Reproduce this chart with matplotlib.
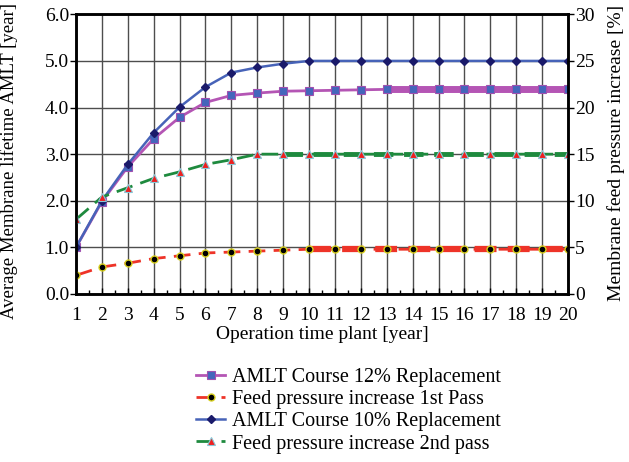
import matplotlib
matplotlib.use("Agg")
import matplotlib.pyplot as plt
from matplotlib.ticker import MultipleLocator

plt.rcParams['font.family'] = ['Liberation Serif', 'DejaVu Serif']

years = list(range(1, 21))
amlt_12 = [1.0, 1.98, 2.73, 3.33, 3.79, 4.11, 4.26, 4.31, 4.35, 4.36,
           4.37, 4.38, 4.39, 4.39, 4.39, 4.39, 4.39, 4.39, 4.39, 4.39]
amlt_10 = [1.0, 2.0, 2.78, 3.46, 4.01, 4.44, 4.75, 4.86, 4.94, 5.0,
           5.0, 5.0, 5.0, 5.0, 5.0, 5.0, 5.0, 5.0, 5.0, 5.0]
feed_1st = [2.0, 2.9, 3.3, 3.8, 4.1, 4.4, 4.5, 4.6, 4.7, 4.8,
            4.8, 4.8, 4.8, 4.8, 4.8, 4.8, 4.8, 4.8, 4.8, 4.8]
feed_2nd = [8.0, 10.4, 11.4, 12.4, 13.1, 13.9, 14.4, 15.0, 15.0, 15.0,
            15.0, 15.0, 15.0, 15.0, 15.0, 15.0, 15.0, 15.0, 15.0, 15.0]

labels = ["AMLT Course 12% Replacement", "Feed pressure increase 1st Pass",
          "AMLT Course 10% Replacement", "Feed pressure increase 2nd pass"]

FS = 14

fig = plt.figure(figsize=(6.29, 4.62), dpi=100)
ax = fig.add_axes([76/629, 1-294/462, (568-76)/629, (294-14.3)/462])
ax2 = ax.twinx()

ax.set_xlim(1, 20)
ax.set_ylim(0, 6)
ax2.set_ylim(0, 30)
ax.set_xticks(years)
ax.xaxis.set_minor_locator(MultipleLocator(0.5))
ax.yaxis.set_major_locator(MultipleLocator(1.0))
ax.set_yticklabels([f"{v:.1f}" for v in ax.get_yticks()])
ax2.yaxis.set_major_locator(MultipleLocator(5))

ax.grid(True, which='major', color='0.3', lw=1.0)
ax.set_axisbelow(True)
for a in (ax, ax2):
    for s in a.spines.values():
        s.set_linewidth(1.8)
ax.tick_params(axis='x', which='major', direction='in', length=4, width=1, labelsize=FS, pad=9)
ax.tick_params(axis='x', which='minor', direction='in', length=3, width=1)
ax.tick_params(axis='y', direction='out', length=4, width=1, labelsize=FS, pad=1)
ax2.tick_params(axis='y', direction='out', length=4, width=1, labelsize=FS, pad=1)

# visual thickening of later segments, as in the reference
ax.plot(years[12:], amlt_12[12:], color='#B455B4', lw=5, solid_capstyle='butt')
l12, = ax.plot(years, amlt_12, color='#B455B4', lw=2, marker='s', ms=6,
               mfc='#4466BB', mec='#A050B0', mew=0.8, label=labels[0])
l10, = ax.plot(years, amlt_10, color='#4763B8', lw=1.8, marker='D', ms=4,
               mfc='#1A1A6A', mec='#1A1A6A', label=labels[2])
ax2.plot(years[9:], feed_1st[9:], color='#EE3328', lw=4.5, ls=(0, (3.5, 1.8)))
ax2.plot(years[8:], feed_2nd[8:], color='#1E8A3E', lw=3.5, ls=(0, (4, 2.2)))
f1, = ax2.plot(years, feed_1st, color='#EE3328', lw=2, ls=(0, (6, 3)), marker='o', ms=5,
               mfc='black', mec='#D8D020', mew=1.0, label=labels[1])
f2, = ax2.plot(years, feed_2nd, color='#1E8A3E', lw=2, ls=(0, (6, 3)), marker='^', ms=6,
               mfc='#EE2020', mec='#88C8D8', mew=0.8, label=labels[3])
ax2.set_zorder(ax.get_zorder() + 1)
ax2.patch.set_visible(False)

ax.set_xlabel("Operation time plant [year]", fontsize=FS)
ax.xaxis.set_label_coords(0.5, -0.114)
ax.set_ylabel("Average Membrane lifetime AMLT [year]", fontsize=13.5)
ax.yaxis.set_label_coords(-0.117, 0.475)
ax2.set_ylabel("Membrane feed pressure increase [%]", fontsize=FS)
ax2.yaxis.set_label_coords(1.079, 0.504)

fig.legend([l12, f1, l10, f2], labels, loc='upper left',
           bbox_to_anchor=(188/629, 1-360/462), frameon=False, fontsize=14.5,
           handlelength=1.45, handletextpad=0.35, labelspacing=0.15, borderaxespad=0)

fig.savefig("out.png", dpi=100)
